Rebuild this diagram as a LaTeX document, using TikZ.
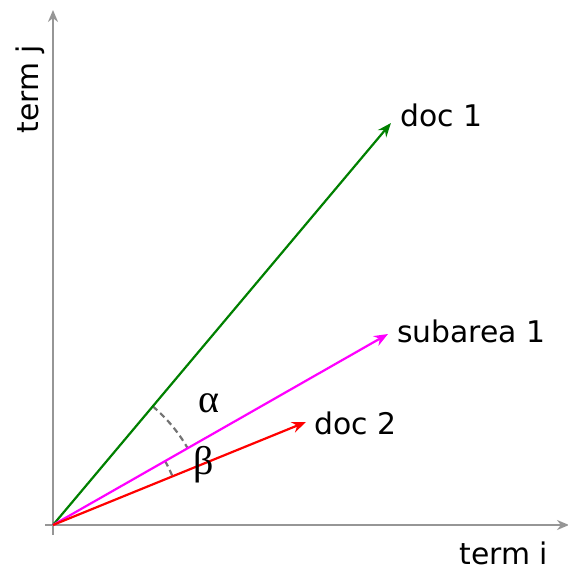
\documentclass[tikz,border=0pt]{standalone}
\usepackage{fontspec}
\setmainfont{DejaVu Sans}
\newfontfamily\grkfont{Liberation Serif}
\usetikzlibrary{arrows.meta}
\definecolor{magv}{RGB}{255,0,255}
\definecolor{grnv}{RGB}{0,128,0}
\definecolor{redv}{RGB}{255,0,0}
\definecolor{axisgray}{RGB}{150,150,150}
\newcommand{\grk}[1]{{\grkfont\fontsize{40}{42}\selectfont #1}}
\begin{document}
\begin{tikzpicture}[x=1pt,y=1pt,
  axis/.style={draw=axisgray, line width=2.2pt, -{Stealth[length=12pt,width=10pt]}},
  vec/.style={line width=2.2pt, -{Stealth[length=14pt,width=11pt]}},
  anglearc/.style={draw=black!55, line width=2.2pt, dash pattern=on 6pt off 4pt},
  lbl/.style={font=\fontsize{29.8}{32}\selectfont, inner sep=0pt},
  greek/.style={inner sep=0pt}]
\useasboundingbox (0,0) rectangle (568,571);
\coordinate (O) at (53,46);
\coordinate (xs) at (45,46);
\coordinate (xe) at (569,46);
\coordinate (ys) at (53,36);
\coordinate (ye) at (53,561);
\coordinate (g) at (391,448);
\coordinate (m) at (388,237);
\coordinate (r) at (306,149);
\draw[axis] (xs) -- (xe);
\draw[axis] (ys) -- (ye);
\draw[anglearc] (O) ++(49.94:155) arc[start angle=49.94, end angle=29.69, radius=155];
\draw[anglearc] (O) ++(29.69:129) arc[start angle=29.69, end angle=22.15, radius=129];
\draw[vec, draw=grnv, fill=grnv] (O) -- (g);
\draw[vec, draw=magv, fill=magv] (O) -- (m);
\draw[vec, draw=redv, fill=redv] (O) -- (r);
\node[lbl, anchor=west] (d1) at (400,456) {doc 1};
\node[lbl, anchor=west] (s1) at (397,240) {subarea 1};
\node[lbl, anchor=west] (d2) at (314,148) {doc 2};
\node[lbl, anchor=base] (ti) at (504,6) {term i};
\node[lbl, rotate=90] (tj) at (30,482) {term j};
\node[greek] (al) at (209,168) {\grk{α}};
\node[greek] (be) at (204,106) {\grk{β}};
\end{tikzpicture}
\end{document}
